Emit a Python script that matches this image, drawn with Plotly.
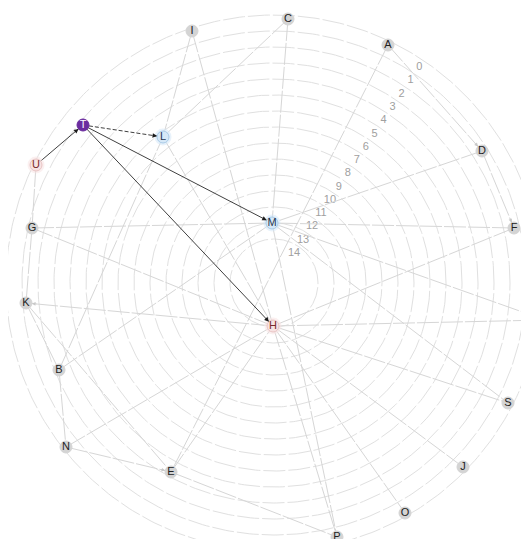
import numpy as np
import plotly.graph_objects as go

# ring levels (tick labels) and ring radii in layout units
ring_levels = list(range(15))
ring_radius = [268, 252, 236, 220, 204, 188, 172, 156, 140, 124, 108, 92, 76, 60, 44]
label_angle_deg = 56

# node layout coordinates (center of rings = origin)
node_names = ["A", "B", "C", "D", "E", "F", "G", "H", "I", "J", "K",
              "L", "M", "N", "O", "P", "R", "S", "T", "U"]
node_x = [114, -215, 14, 208, -103, 240, -242, -1, -82, 189, -248,
          -111, -2, -208, 131, 63, 271, 234, -191, -238]
node_y = [238, -87, 264, 132, -189, 55, 55, -43, 252, -184, -20,
          146, 60, -164, -230, -254, -37, -120, 158, 118]
node_group = ["other", "other", "other", "other", "other", "other", "other", "pink",
              "other", "other", "other", "blue", "blue", "other", "other", "other",
              "other", "other", "purple", "pink"]

gray_edges = [("I", "L"), ("I", "H"), ("C", "L"), ("C", "M"), ("A", "D"), ("A", "E"),
              ("D", "F"), ("D", "M"), ("F", "M"), ("F", "H"), ("G", "M"), ("G", "H"),
              ("U", "G"), ("G", "K"), ("K", "B"), ("K", "E"), ("H", "K"), ("B", "L"),
              ("B", "M"), ("B", "N"), ("N", "E"), ("N", "H"), ("E", "H"), ("E", "P"),
              ("L", "H"), ("M", "S"), ("M", "R"), ("M", "P"), ("H", "S"), ("H", "J"),
              ("H", "O"), ("H", "P"), ("H", "R")]
gray_arrow_edges = [("A", "D"), ("D", "F"), ("H", "K"), ("N", "E")]
black_edges = [("U", "T"), ("T", "M"), ("T", "H")]
black_dashed_edges = [("T", "L")]

pos = {n: (x, y) for n, x, y in zip(node_names, node_x, node_y)}

fig = go.Figure()

# rings
theta = np.linspace(0, 2 * np.pi, 400)
cx, cy = [], []
for r in ring_radius:
    cx += list(r * np.cos(theta)) + [None]
    cy += list(r * np.sin(theta)) + [None]
fig.add_trace(go.Scatter(x=cx, y=cy, mode="lines",
                         line=dict(color="#e0e0e0", width=1, dash="22px,3px"),
                         hoverinfo="skip", showlegend=False))

# ring labels
a = np.deg2rad(label_angle_deg)
lx = [(r - 8) * np.cos(a) for r in ring_radius]
ly = [(r - 8) * np.sin(a) for r in ring_radius]
fig.add_trace(go.Scatter(x=lx, y=ly, mode="text", text=[str(v) for v in ring_levels],
                         textfont=dict(family="Liberation Sans, Arial", size=11, color="#a0a0a0"),
                         hoverinfo="skip", showlegend=False))


def edge_xy(edges):
    ex, ey = [], []
    for s, t in edges:
        ex += [pos[s][0], pos[t][0], None]
        ey += [pos[s][1], pos[t][1], None]
    return ex, ey


ex, ey = edge_xy(gray_edges)
fig.add_trace(go.Scatter(x=ex, y=ey, mode="lines",
                         line=dict(color="#d6d6d6", width=1, dash="22px,2px"),
                         hoverinfo="skip", showlegend=False))

ex, ey = edge_xy(black_edges)
fig.add_trace(go.Scatter(x=ex, y=ey, mode="lines",
                         line=dict(color="#2a2a2a", width=0.9),
                         hoverinfo="skip", showlegend=False))
ex, ey = edge_xy(black_dashed_edges)
fig.add_trace(go.Scatter(x=ex, y=ey, mode="lines",
                         line=dict(color="#2a2a2a", width=0.9, dash="4px,2px"),
                         hoverinfo="skip", showlegend=False))


def add_head(s, t, color, size):
    x0, y0 = pos[s]
    x1, y1 = pos[t]
    d = np.hypot(x1 - x0, y1 - y0)
    ux, uy = (x1 - x0) / d, (y1 - y0) / d
    fig.add_annotation(x=x1, y=y1, ax=x1 - ux * 12, ay=y1 - uy * 12,
                       xref="x", yref="y", axref="x", ayref="y",
                       text="", showarrow=True, arrowhead=2, arrowsize=size,
                       arrowwidth=0.9, arrowcolor=color, standoff=6)


for s, t in black_edges + black_dashed_edges:
    add_head(s, t, "#1a1a1a", 1.0)
for s, t in gray_arrow_edges:
    add_head(s, t, "#c8c8c8", 0.8)

# node styles
fill = {"other": "#d4d4d4", "blue": "#d6e8f7", "pink": "#f7e3e3", "purple": "#6b2c9f"}
edge = {"other": "#d4d4d4", "blue": "#a9cbe8", "pink": "#e9c4c4", "purple": "#6b2c9f"}
tcol = {"other": "#222222", "blue": "#1f3550", "pink": "#7a2a2a", "purple": "#ffffff"}
glow_idx = [i for i, g in enumerate(node_group) if g in ("blue", "pink")]
fig.add_trace(go.Scatter(x=[node_x[i] for i in glow_idx], y=[node_y[i] for i in glow_idx],
                         mode="markers",
                         marker=dict(size=17, color=[fill[node_group[i]] for i in glow_idx],
                                     opacity=0.55, line=dict(width=0)),
                         hoverinfo="skip", showlegend=False))

fig.add_trace(go.Scatter(x=node_x, y=node_y, mode="markers+text", text=node_names,
                         textposition="middle center",
                         textfont=dict(family="Liberation Sans, Arial", size=11,
                                       color=[tcol[g] for g in node_group]),
                         marker=dict(size=12, color=[fill[g] for g in node_group],
                                     line=dict(width=1, color=[edge[g] for g in node_group])),
                         hoverinfo="text", showlegend=False))

fig.update_layout(
    width=529, height=539,
    margin=dict(l=0, r=0, t=0, b=0),
    paper_bgcolor="white", plot_bgcolor="white",
    xaxis=dict(range=[-266, 263], visible=False, showgrid=False, zeroline=False),
    yaxis=dict(range=[-264, 275], visible=False, showgrid=False, zeroline=False,
               scaleanchor="x", scaleratio=1),
)

fig.write_html("out.html")
